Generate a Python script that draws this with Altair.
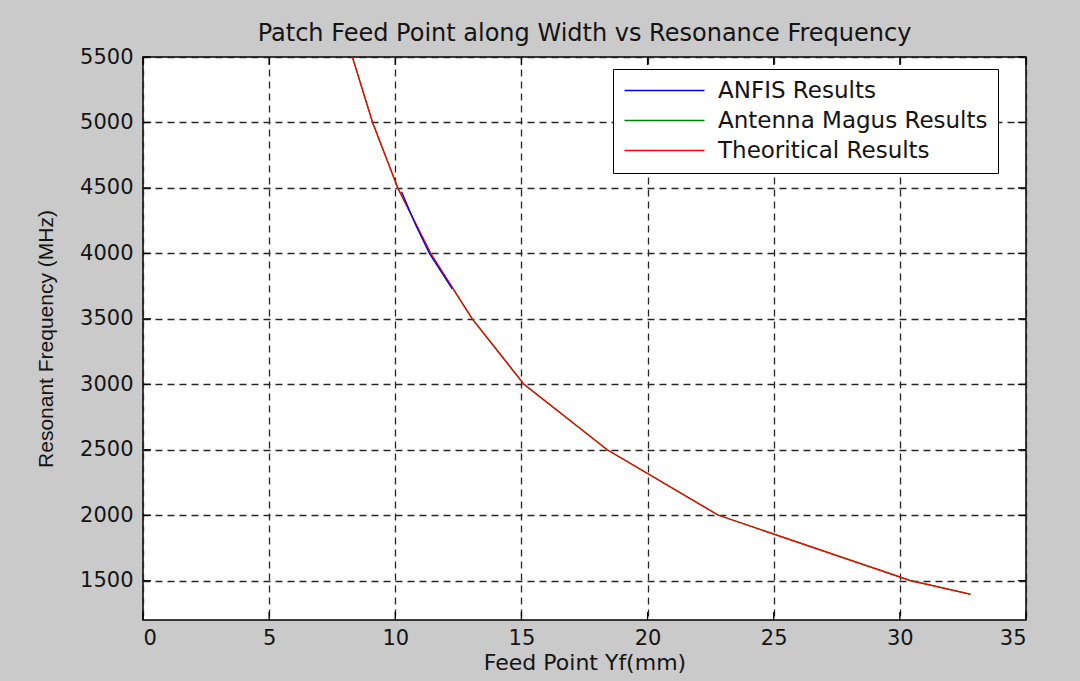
import altair as alt
import pandas as pd

# ---- data ----
series_names = ["ANFIS Results", "Antenna Magus Results", "Theoritical Results"]
series_colors = ["#0000ff", "#008000", "#ff0000"]

theo_yf = [7.65, 8.3, 9.1, 10.1, 11.4, 13.05, 15.1, 18.4, 22.8, 30.4, 32.8]
theo_freq = [6000, 5500, 5000, 4500, 4000, 3500, 3000, 2500, 2000, 1500, 1395]

magus_yf = [8.3, 9.1, 10.1, 11.4, 13.05, 15.1, 18.4, 22.8, 30.42, 32.8]
magus_freq = [5500, 5000, 4500, 4000, 3500, 3000, 2500, 2002, 1502, 1397]

anfis_yf = [10.25, 10.8, 11.35, 12.25]
anfis_freq = [4470, 4220, 4000, 3730]

x_ticks = [0, 5, 10, 15, 20, 25, 30, 35]
y_ticks = [1500, 2000, 2500, 3000, 3500, 4000, 4500, 5000, 5500]

# ---- layout ----
PLOT_W, PLOT_H = 883, 563
FONT = "DejaVu Sans"
TXT = "#141414"


def frame(name, xs, ys):
    return pd.DataFrame({"yf": xs, "freq": ys, "series": name, "i": range(len(xs))})


xscale = alt.Scale(domain=[0, 35], nice=False, zero=False)
yscale = alt.Scale(domain=[1200, 5500], nice=False, zero=False)
cscale = alt.Scale(domain=series_names, range=series_colors)

xaxis = alt.Axis(values=x_ticks, title="Feed Point Yf(mm)", format="d")
yaxis = alt.Axis(values=y_ticks, title="Resonant Frequency (MHz)", format="d")

legend = alt.Legend(
    title=None, orient="none", legendX=470, legendY=12,
    symbolType="M-4,0H4", symbolSize=400, symbolStrokeWidth=1.5,
    symbolOffset=30,
    labelFontSize=23, labelFont=FONT, labelColor=TXT, labelOffset=42,
    labelLimit=500,
    padding=10, rowPadding=6, strokeColor="black", fillColor="white",
    cornerRadius=0,
)


def line_layer(df):
    return alt.Chart(df).mark_line(strokeWidth=1.3, clip=True).encode(
        x=alt.X("yf:Q", scale=xscale, axis=xaxis),
        y=alt.Y("freq:Q", scale=yscale, axis=yaxis),
        color=alt.Color("series:N", scale=cscale, legend=legend),
        order=alt.Order("i:Q"),
    )


magus = line_layer(frame(series_names[1], magus_yf, magus_freq))
theo = line_layer(frame(series_names[2], theo_yf, theo_freq))
anfis = line_layer(frame(series_names[0], anfis_yf, anfis_freq))

xt = pd.DataFrame({"yf": x_ticks})
yt = pd.DataFrame({"freq": y_ticks})
TL = 8
top_ticks = alt.Chart(xt).mark_rule(color="black", strokeWidth=1.3).encode(
    x=alt.X("yf:Q", scale=xscale, axis=xaxis), y=alt.value(0), y2=alt.value(TL))
bot_ticks = alt.Chart(xt).mark_rule(color="black", strokeWidth=1.3).encode(
    x=alt.X("yf:Q", scale=xscale, axis=xaxis), y=alt.value(PLOT_H - TL), y2=alt.value(PLOT_H))
left_ticks = alt.Chart(yt).mark_rule(color="black", strokeWidth=1.3).encode(
    y=alt.Y("freq:Q", scale=yscale, axis=yaxis), x=alt.value(0), x2=alt.value(TL))
right_ticks = alt.Chart(yt).mark_rule(color="black", strokeWidth=1.3).encode(
    y=alt.Y("freq:Q", scale=yscale, axis=yaxis), x=alt.value(PLOT_W - TL), x2=alt.value(PLOT_W))

chart = alt.layer(
    magus, theo, anfis, top_ticks, bot_ticks, left_ticks, right_ticks
).properties(
    width=PLOT_W, height=PLOT_H,
    title=alt.Title("Patch Feed Point along Width vs Resonance Frequency",
                    fontSize=24, font=FONT, fontWeight="normal", color=TXT,
                    anchor="middle", offset=0),
    autosize=alt.AutoSizeParams(type="none"),
    padding={"left": 143, "top": 57, "right": 54, "bottom": 61},
    background="#cacaca",
).configure_view(
    fill="white", stroke="black", strokeWidth=1.5,
).configure_axis(
    labelFont=FONT, labelFontSize=21, labelColor=TXT,
    titleFont=FONT, titleFontSize=22, titleColor=TXT, titleFontWeight="normal",
    grid=True, gridColor="#262626", gridDash=[7, 5], gridWidth=1.3, gridOpacity=1,
    domain=False, ticks=False,
).configure_axisX(
    labelPadding=7, titlePadding=4,
).configure_axisY(
    labelPadding=10, titlePadding=23, titleFont="Liberation Sans", titleFontSize=21,
)

chart.save("out.html", embed_options={"renderer": "svg", "actions": False})
